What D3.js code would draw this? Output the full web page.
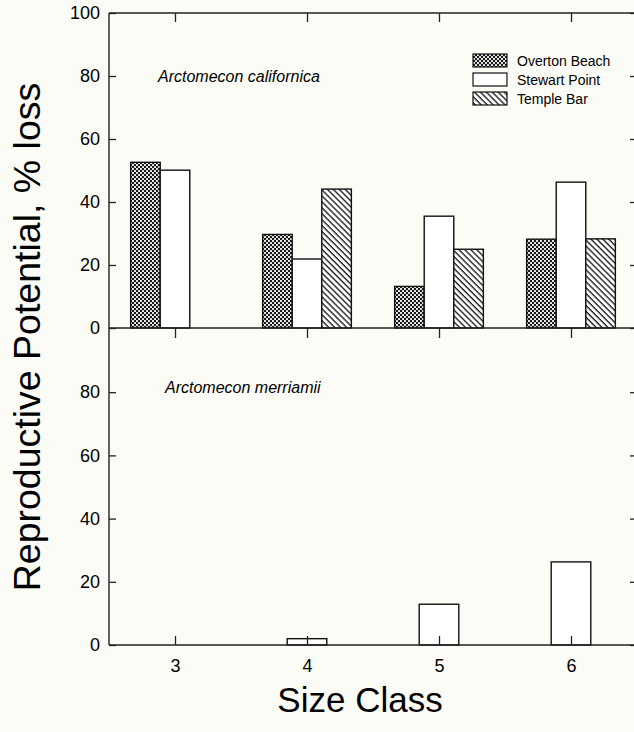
<!DOCTYPE html>
<html>
<head>
<meta charset="utf-8">
<script src="https://cdn.jsdelivr.net/npm/d3@7"></script>
<style>
  body { margin: 0; background: #fcfcf6; }
  svg { font-family: Arial, "Liberation Sans", sans-serif; }
</style>
</head>
<body>
<div id="chart"></div>
<script>
// data
const sizeClasses = [3, 4, 5, 6];
const sites = ["Overton Beach", "Stewart Point", "Temple Bar"];
// Arctomecon californica, % loss
const overtonBeach = [52.6, 29.7, 13.2, 28.2];
const stewartPoint = [50.1, 21.9, 35.5, 46.3];
const templeBar = [null, 44.1, 25.0, 28.3];
// Arctomecon merriamii, % loss (Stewart Point only)
const merriamii = [null, 2.0, 12.9, 26.3];

const yTicksTop = [0, 20, 40, 60, 80, 100];
const yTicksBottom = [0, 20, 40, 60, 80];

const width = 634, height = 732;
const left = 109, right = 637;

const svg = d3.select("#chart")
    .append("svg")
    .attr("width", width)
    .attr("height", height)
    .style("background", "#fcfcf6");

// patterns for the bar fills
const defs = svg.append("defs");
const cross = defs.append("pattern")
    .attr("id", "cross")
    .attr("patternUnits", "userSpaceOnUse")
    .attr("width", 4).attr("height", 4);
cross.append("rect").attr("width", 4).attr("height", 4).attr("fill", "#1a1a1a");
cross.append("circle").attr("cx", 1).attr("cy", 1).attr("r", 1.05).attr("fill", "#fff");
cross.append("circle").attr("cx", 3).attr("cy", 3).attr("r", 1.05).attr("fill", "#fff");

const hatch = defs.append("pattern")
    .attr("id", "hatch")
    .attr("patternUnits", "userSpaceOnUse")
    .attr("width", 4.2).attr("height", 4.2)
    .attr("patternTransform", "rotate(-45)");
hatch.append("rect").attr("width", 4.2).attr("height", 4.2).attr("fill", "#fff");
hatch.append("line")
    .attr("x1", 1).attr("y1", 0).attr("x2", 1).attr("y2", 4.2)
    .attr("stroke", "#111").attr("stroke-width", 1.3);

const fills = ["url(#cross)", "#fff", "url(#hatch)"];

// scales
const x = d3.scaleLinear().domain([2.5, 6.5]).range([left, right]);
const yTop = d3.scaleLinear().domain([0, 100]).range([328, 13]);
const yBot = d3.scaleLinear().domain([0, 100]).range([645, 329]);

const topBarW = 0.224;    // in size-class units
const botBarW = 0.30;

// top panel bars
const topSeries = [overtonBeach, stewartPoint, templeBar];
topSeries.forEach((vals, s) => {
    const bars = sizeClasses.map((c, i) => ({ c: c, v: vals[i] })).filter(d => d.v != null);
    svg.append("g").selectAll("rect")
        .data(bars)
        .enter().append("rect")
        .attr("x", d => x(d.c + (s - 1.5) * topBarW))
        .attr("width", x(topBarW) - x(0))
        .attr("y", d => yTop(d.v))
        .attr("height", d => yTop(0) - yTop(d.v))
        .attr("fill", fills[s])
        .attr("stroke", "#111")
        .attr("stroke-width", 1.4);
});

// bottom panel bars
const botBars = sizeClasses.map((c, i) => ({ c: c, v: merriamii[i] })).filter(d => d.v != null);
svg.append("g").selectAll("rect")
    .data(botBars)
    .enter().append("rect")
    .attr("x", d => x(d.c - botBarW / 2))
    .attr("width", x(botBarW) - x(0))
    .attr("y", d => yBot(d.v))
    .attr("height", d => yBot(0) - yBot(d.v))
    .attr("fill", "#fff")
    .attr("stroke", "#111")
    .attr("stroke-width", 1.4);

// axes
function clean(g) {
    g.select(".domain").remove();
    g.selectAll("line").attr("stroke", "#222").attr("stroke-width", 1.3);
    g.selectAll("text").attr("fill", "#000").style("font-size", "18px");
}

svg.append("g")
    .attr("transform", `translate(${left},0)`)
    .call(d3.axisLeft(yTop).tickValues(yTicksTop).tickSizeInner(-7).tickPadding(9))
    .call(clean);

svg.append("g")
    .attr("transform", `translate(${left},0)`)
    .call(d3.axisLeft(yBot).tickValues(yTicksBottom).tickSizeInner(-7).tickPadding(9))
    .call(clean);

svg.append("g")
    .attr("transform", `translate(${right},0)`)
    .call(d3.axisRight(yTop).tickValues(yTicksTop).tickSizeInner(-7).tickFormat(""))
    .call(clean);

svg.append("g")
    .attr("transform", `translate(${right},0)`)
    .call(d3.axisRight(yBot).tickValues(yTicksBottom).tickSizeInner(-7).tickFormat(""))
    .call(clean);

svg.append("g")
    .attr("transform", `translate(0,${yTop(100)})`)
    .call(d3.axisTop(x).tickValues(sizeClasses).tickSizeInner(-9).tickFormat(""))
    .call(clean);

svg.append("g")
    .attr("transform", `translate(0,${yTop(0)})`)
    .call(d3.axisBottom(x).tickValues(sizeClasses).tickSizeInner(10).tickFormat(""))
    .call(clean);

svg.append("g")
    .attr("transform", `translate(0,${yBot(0)})`)
    .call(d3.axisBottom(x).tickValues(sizeClasses).tickSizeInner(-9).tickPadding(14).tickFormat(d3.format("d")))
    .call(clean);

// frame lines
const frame = svg.append("g").attr("stroke", "#222").attr("stroke-width", 1.4);
frame.append("line").attr("x1", left).attr("x2", left).attr("y1", yTop(100)).attr("y2", yBot(0));
frame.append("line").attr("x1", right).attr("x2", right).attr("y1", yTop(100)).attr("y2", yBot(0));
[yTop(100), yTop(0), yBot(0)].forEach(yy => {
    frame.append("line").attr("x1", left).attr("x2", right).attr("y1", yy).attr("y2", yy);
});

// species labels
svg.append("text")
    .attr("x", 158).attr("y", 82)
    .style("font-size", "16px").style("font-style", "italic")
    .text("Arctomecon californica");

svg.append("text")
    .attr("x", 165).attr("y", 393)
    .style("font-size", "16px").style("font-style", "italic")
    .text("Arctomecon merriamii");

// legend
const legend = svg.selectAll(".legend")
    .data(sites)
    .enter().append("g")
    .attr("class", "legend")
    .attr("transform", (d, i) => "translate(473," + (54 + i * 19) + ")");

legend.append("rect")
    .attr("width", 34).attr("height", 13)
    .attr("fill", (d, i) => fills[i])
    .attr("stroke", "#111").attr("stroke-width", 1.2);

legend.append("text")
    .attr("x", 44).attr("y", 11.5)
    .style("font-size", "14px")
    .text(d => d);

// axis titles
svg.append("text")
    .attr("transform", "rotate(-90)")
    .attr("x", -337).attr("y", 40)
    .style("text-anchor", "middle")
    .style("font-size", "37.5px")
    .text("Reproductive Potential, % loss");

svg.append("text")
    .attr("x", 360).attr("y", 712)
    .style("text-anchor", "middle")
    .style("font-size", "35px")
    .text("Size Class");
</script>
</body>
</html>
